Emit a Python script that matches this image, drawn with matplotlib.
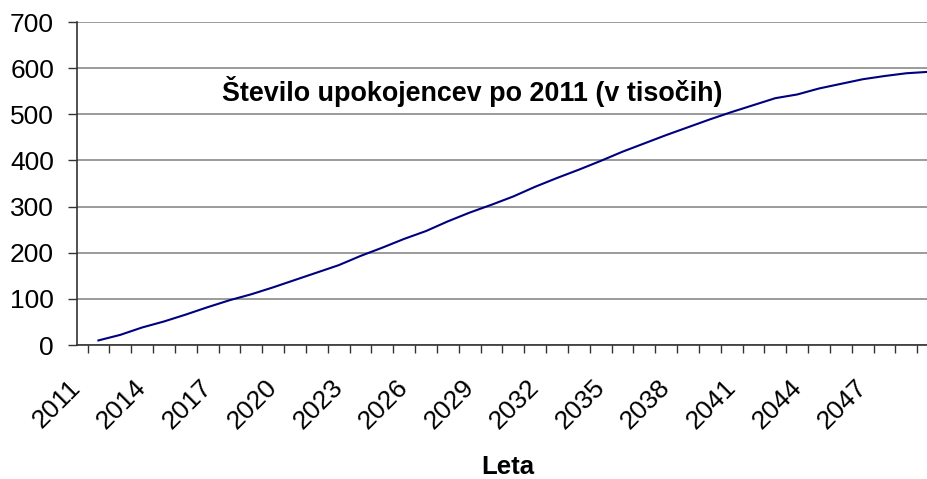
import numpy as np
import matplotlib.pyplot as plt

years = list(range(2011, 2050))
retirees = [10, 22, 38, 51, 66, 82, 97, 110, 125, 141,
            157, 173, 193, 211, 230, 247, 268, 287, 304, 322,
            343, 362, 380, 399, 419, 437, 455, 472, 489, 505,
            520, 535, 543, 556, 566, 576, 583, 589, 592]
label_years = years[::3]
y_ticks = [0, 100, 200, 300, 400, 500, 600, 700]
title_text = "Število upokojencev po 2011 (v tisočih)"
x_title = "Leta"

plt.rcParams['font.family'] = ['Liberation Sans', 'DejaVu Sans']

fig = plt.figure(figsize=(9.27, 4.79), dpi=100)
ax = fig.add_axes([0.0831, 0.2797, 0.930, 0.6743])

idx = np.arange(len(years))
ax.plot(idx, retirees, color='#000080', lw=1.5, zorder=3)

ax.set_xlim(-0.5, len(years) - 0.5)
ax.set_ylim(0, 700)
ax.set_yticks(y_ticks)
ax.set_yticklabels([str(v) for v in y_ticks], fontsize=19)
ax.grid(axis='y', color='#808080', lw=1.1)
ax.set_axisbelow(True)

# tick marks between categories, labels every third year
ax.set_xticks(np.arange(len(years) + 1) - 0.5)
ax.set_xticklabels([])
lab_idx = [years.index(y) for y in label_years]
ax.set_xticks(np.array(lab_idx) - 0.98, minor=True)
ax.set_xticklabels([str(y) for y in label_years], minor=True, fontsize=19,
                   rotation=45, ha='right', va='center', rotation_mode='anchor')
ax.tick_params(axis='x', which='major', length=6, width=1, direction='out', color='#333333')
ax.tick_params(axis='x', which='minor', length=0, pad=28)
ax.tick_params(axis='y', length=6.5, width=1, direction='out', color='#333333', pad=10)

for s in ['top', 'right']:
    ax.spines[s].set_visible(False)
for s in ['left', 'bottom']:
    ax.spines[s].set_color('#333333')
    ax.spines[s].set_linewidth(1.2)

ax.text(0.458, 0.786, title_text, transform=ax.transAxes, ha='center', va='center',
        fontsize=19.4, fontweight='bold')
fig.text(508 / 927, 5 / 479, x_title, ha='center', va='baseline',
         fontsize=18.5, fontweight='bold')

fig.savefig('out.png', dpi=100)
